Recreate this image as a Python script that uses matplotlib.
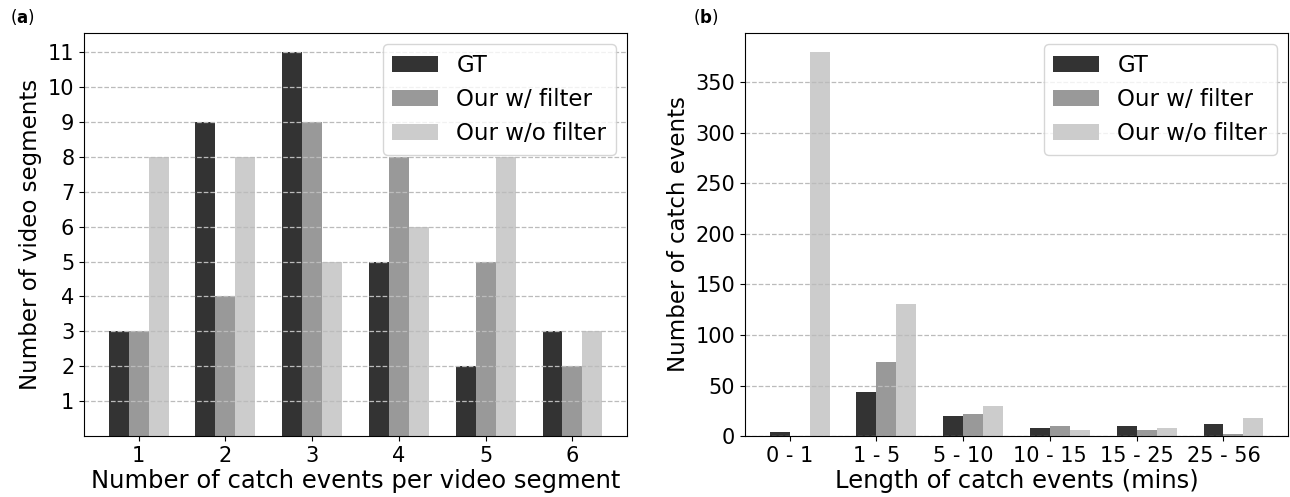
import numpy as np
import matplotlib.pyplot as plt

# panel (a)
seg_counts = [1, 2, 3, 4, 5, 6]
a_gt = [3, 9, 11, 5, 2, 3]
a_filter = [3, 4, 9, 8, 5, 2]
a_nofilter = [8, 8, 5, 6, 8, 3]

# panel (b)
lengths = ["0 - 1", "1 - 5", "5 - 10", "10 - 15", "15 - 25", "25 - 56"]
b_gt = [4, 44, 20, 8, 10, 12]
b_filter = [0, 73, 22, 10, 6, 2]
b_nofilter = [380, 131, 30, 6, 8, 18]

labels = ["GT", "Our w/ filter", "Our w/o filter"]
colors = ["#333333", "#999999", "#cccccc"]

plt.rcParams["font.size"] = 15
fig = plt.figure(figsize=(12.9, 4.97), dpi=100)
ax1 = fig.add_axes([0.0651, 0.1227, 0.421, 0.811])
ax2 = fig.add_axes([0.5775, 0.1227, 0.421, 0.811])

w = 0.23
x = np.array(seg_counts)
for i, vals in enumerate([a_gt, a_filter, a_nofilter]):
    ax1.bar(x + (i - 1) * w, vals, w, color=colors[i], label=labels[i])
ax1.set_xticks(x)
ax1.set_yticks(range(1, 12))
ax1.set_xlabel("Number of catch events per video segment", fontsize=17.5, labelpad=2)
ax1.set_ylabel("Number of video segments", fontsize=16.5)
ax1.grid(axis="y", linestyle="--", color="#bbbbbb", linewidth=0.9)
ax1.legend(loc="upper right", fontsize=16.5)

xb = np.arange(len(lengths))
for i, vals in enumerate([b_gt, b_filter, b_nofilter]):
    ax2.bar(xb + (i - 0.5) * w, vals, w, color=colors[i], label=labels[i])
ax2.set_xticks(xb)
ax2.set_xticklabels(lengths)
ax2.set_xlabel("Length of catch events (mins)", fontsize=17.5, labelpad=2)
ax2.set_ylabel("Number of catch events", fontsize=16.5)
ax2.grid(axis="y", linestyle="--", color="#bbbbbb", linewidth=0.9)
ax2.legend(loc="upper right", fontsize=16.5)

fig.text(0.008, 0.965, r"($\mathbf{a}$)", fontsize=12, va="center")
fig.text(0.537, 0.965, r"($\mathbf{b}$)", fontsize=12, va="center")

fig.savefig("out.png")
